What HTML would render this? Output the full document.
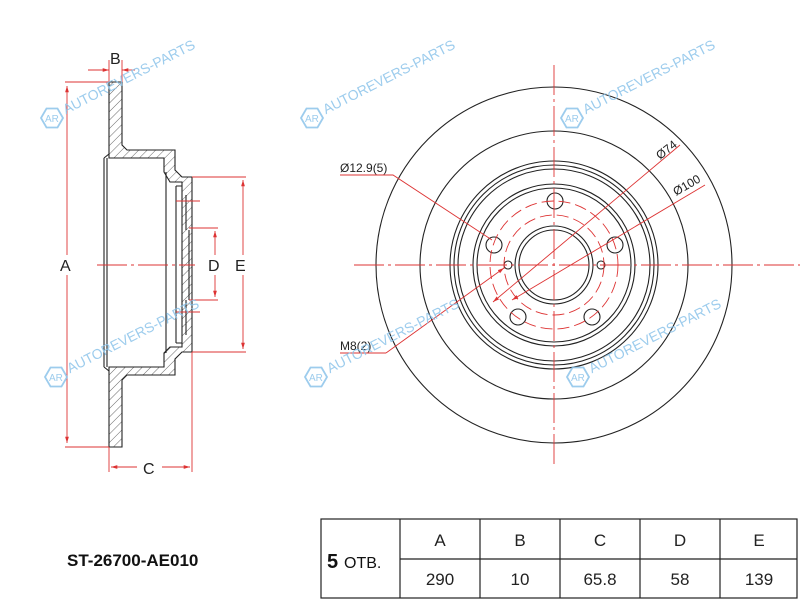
<!DOCTYPE html>
<html><head><meta charset="utf-8"><style>
body{margin:0;background:#fff}
svg{display:block}
text{font-family:"Liberation Sans",Arial,sans-serif}
</style></head><body>
<svg width="800" height="600" viewBox="0 0 800 600" xmlns="http://www.w3.org/2000/svg">
<defs>
<pattern id="h" width="6" height="6" patternUnits="userSpaceOnUse" patternTransform="rotate(45)">
<rect width="6" height="6" fill="#fff"/><line x1="0" y1="0" x2="0" y2="6" stroke="#444" stroke-width="0.8"/>
</pattern>
<marker id="ar" viewBox="0 0 10 10" refX="10" refY="5" markerWidth="7" markerHeight="7" orient="auto-start-reverse"><path d="M0,2 L10,5 L0,8 z" fill="#d33"/></marker>
<g id="wm" fill="none" stroke="#8cc4ea" stroke-width="1.8" opacity="0.85">
<path d="M-11,0 L-5.5,-9.5 L5.5,-9.5 L11,0 L5.5,9.5 L-5.5,9.5 Z"/>
<text x="-7" y="4" font-size="10" fill="#8cc4ea" stroke="none">AR</text>
<text x="14" y="3" font-size="14" fill="#8cc4ea" stroke="none" transform="rotate(-27)">AUTOREVERS-PARTS</text>
</g>
</defs>

<!-- SIDE VIEW -->
<g stroke="#222" stroke-width="1.1">
<path fill="url(#h)" d="M109,82 L122,82 L122,145 L127,150 L175,150 L175,170 L182,177 L192,177 L192,352 L182,352 L175,359 L175,375 L127,375 L122,380 L122,447 L109,447 L109,367 L164,367 L164,353 L170,347 L182,347 L182,182 L170,182 L164,172 L164,158 L109,158 Z"/>
<path fill="none" d="M104,158 L104,367 M107,158 L107,367 M104,158 L109,154 M104,367 L109,371 M166,172 L166,353 M176,186 L176,343 M176,186 L182,186 M176,343 L182,343 M186,195 L186,230 M186,300 L186,335 M189,230 L189,300"/>
</g>
<g stroke="#d33" stroke-width="0.9" fill="none">
<line x1="65" y1="82" x2="109" y2="82"/>
<line x1="65" y1="447" x2="109" y2="447"/>
<line x1="67" y1="86" x2="67" y2="255" marker-start="url(#ar)"/>
<line x1="67" y1="275" x2="67" y2="443" marker-end="url(#ar)"/>
<line x1="88" y1="70" x2="109" y2="70" marker-end="url(#ar)"/>
<line x1="122" y1="70" x2="135" y2="70" marker-start="url(#ar)"/>
<line x1="109" y1="60" x2="109" y2="82"/>
<line x1="122" y1="60" x2="122" y2="82"/>
<line x1="109" y1="447" x2="109" y2="472"/>
<line x1="192" y1="352" x2="192" y2="472"/>
<line x1="111" y1="467" x2="137" y2="467" marker-start="url(#ar)"/>
<line x1="162" y1="467" x2="190" y2="467" marker-end="url(#ar)"/>
<line x1="192" y1="177" x2="246" y2="177"/>
<line x1="192" y1="352" x2="246" y2="352"/>
<line x1="243" y1="180" x2="243" y2="255" marker-start="url(#ar)"/>
<line x1="243" y1="275" x2="243" y2="349" marker-end="url(#ar)"/>
<line x1="189" y1="228" x2="218" y2="228"/>
<line x1="189" y1="300" x2="218" y2="300"/>
<line x1="215" y1="231" x2="215" y2="255" marker-start="url(#ar)"/>
<line x1="215" y1="275" x2="215" y2="297" marker-end="url(#ar)"/>
<line x1="97" y1="265" x2="195" y2="265" stroke-dasharray="30,4,3,4"/>
<line x1="176" y1="201" x2="200" y2="201"/>
<line x1="176" y1="312" x2="200" y2="312"/>
</g>
<g font-size="16" fill="#222">
<text x="110" y="64">B</text>
<text x="60" y="271">A</text>
<text x="208" y="271">D</text>
<text x="235" y="271">E</text>
<text x="143" y="474">C</text>
</g>

<!-- FRONT VIEW -->
<g fill="none" stroke="#222" stroke-width="1.1">
<circle cx="554" cy="265" r="178"/>
<circle cx="554" cy="265" r="134"/>
<circle cx="554" cy="265" r="104"/>
<circle cx="554" cy="265" r="100"/>
<circle cx="554" cy="265" r="96"/>
<circle cx="554" cy="265" r="81"/>
<circle cx="554" cy="265" r="77"/>
<circle cx="554" cy="265" r="39"/>
<circle cx="554" cy="265" r="35"/>
<circle cx="555" cy="201" r="8"/>
<circle cx="494" cy="245" r="8"/>
<circle cx="615" cy="245" r="8"/>
<circle cx="518" cy="317" r="8"/>
<circle cx="592" cy="317" r="8"/>
<circle cx="508" cy="265" r="4"/>
<circle cx="601" cy="265" r="4"/>
</g>
<g fill="none" stroke="#d33" stroke-width="0.9">
<line x1="354" y1="265" x2="800" y2="265" stroke-dasharray="30,4,3,4"/>
<line x1="554" y1="65" x2="554" y2="465" stroke-dasharray="30,4,3,4"/>
<circle cx="554" cy="265" r="64" stroke-dasharray="12,5"/>
<circle cx="554" cy="265" r="50" stroke-dasharray="12,5"/>
<polyline points="340,175 393,175 492,240"/>
<line x1="386" y1="353" x2="340" y2="353"/>
<line x1="386" y1="353" x2="504" y2="268" marker-end="url(#ar)"/>
<line x1="680" y1="145" x2="493" y2="302" marker-end="url(#ar)"/>
<line x1="705" y1="185" x2="512" y2="300" marker-end="url(#ar)"/>
</g>
<g font-size="12" fill="#222">
<text x="340" y="172">Ø12.9(5)</text>
<text x="340" y="350">M8(2)</text>
<text x="660" y="160" transform="rotate(-38 660 160)">Ø74</text>
<text x="676" y="196" transform="rotate(-30 676 196)">Ø100</text>
</g>

<!-- watermarks -->
<use href="#wm" x="52" y="118"/>
<use href="#wm" x="312" y="118"/>
<use href="#wm" x="572" y="118"/>
<use href="#wm" x="56" y="377"/>
<use href="#wm" x="316" y="377"/>
<use href="#wm" x="578" y="377"/>

<!-- title -->
<text x="67" y="566" font-size="17" font-weight="bold" fill="#111">ST-26700-AE010</text>

<!-- table -->
<g stroke="#222" stroke-width="1.2" fill="none">
<rect x="321" y="519" width="476" height="79"/>
<line x1="400" y1="559" x2="797" y2="559"/>
<line x1="400" y1="519" x2="400" y2="598"/>
<line x1="480" y1="519" x2="480" y2="598"/>
<line x1="560" y1="519" x2="560" y2="598"/>
<line x1="640" y1="519" x2="640" y2="598"/>
<line x1="720" y1="519" x2="720" y2="598"/>
</g>
<g font-size="17" fill="#222" text-anchor="middle">
<text x="440" y="546">A</text><text x="520" y="546">B</text><text x="600" y="546">C</text><text x="680" y="546">D</text><text x="759" y="546">E</text>
<text x="440" y="585">290</text><text x="520" y="585">10</text><text x="600" y="585">65.8</text><text x="680" y="585">58</text><text x="759" y="585">139</text>
</g>
<text x="327" y="568" font-size="20" font-weight="bold" fill="#111">5</text>
<text x="344" y="568" font-size="16" fill="#111">ОТВ.</text>
</svg>
</body></html>
